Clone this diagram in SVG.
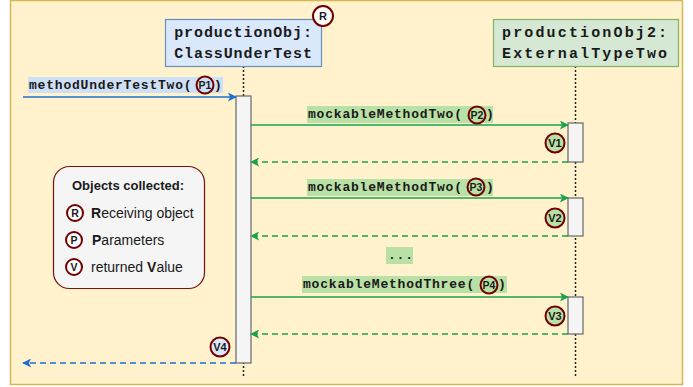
<svg xmlns="http://www.w3.org/2000/svg" width="693" height="387" viewBox="0 0 693 387">
<defs>
<style>
.mono{font-family:"Liberation Mono","Courier New",monospace;font-weight:bold;fill:#1a1a1a}
.hdr{font-size:15px;letter-spacing:0.9px}
.lbl{font-size:13px;letter-spacing:0.8px}
.badge{stroke:#700000;stroke-width:2}
.btxt{font-family:"Liberation Sans",Arial,sans-serif;font-weight:bold;font-size:10.5px;fill:#1a1a1a;text-anchor:middle}
.vtxt{font-size:11px}
.leg{font-family:"Liberation Sans",Arial,sans-serif;font-size:14px;fill:#1a1a1a}
.gl{stroke:#1ba04c;stroke-width:1.6;fill:none}
.bl{stroke:#1f6fd1;stroke-width:1.6;fill:none}
.dash{stroke-dasharray:6 4}
.life{stroke:#222;stroke-width:1.5;stroke-dasharray:2 2}
.act{fill:#f5f5f5;stroke:#666;stroke-width:1.2}
.ghl{fill:#b9e0a5}
.bhl{fill:#cfdff5}
</style>
<marker id="ag" viewBox="0 0 10 10" refX="9" refY="5" markerWidth="10" markerHeight="9" markerUnits="userSpaceOnUse" orient="auto-start-reverse">
<path d="M0,0 L10,5 L0,10 L2.5,5 z" fill="#1ba04c"/>
</marker>
<marker id="ab" viewBox="0 0 10 10" refX="9" refY="5" markerWidth="10" markerHeight="9" markerUnits="userSpaceOnUse" orient="auto-start-reverse">
<path d="M0,0 L10,5 L0,10 L2.5,5 z" fill="#1f6fd1"/>
</marker>
</defs>

<rect x="10.5" y="0.5" width="672" height="384" fill="#fff2cc" stroke="#d6b656" stroke-width="1.5"/>

<g id="lifelines">
<line class="life" x1="243.5" y1="66" x2="243.5" y2="376"/>
<line class="life" x1="575.5" y1="66" x2="575.5" y2="376"/>
</g>

<g id="productionObj">
<rect x="165.5" y="19.5" width="156" height="47" fill="#dae8fc" stroke="#6c8ebf" stroke-width="1.2"/>
<text class="mono hdr" x="243.5" y="37" text-anchor="middle">productionObj:</text>
<text class="mono hdr" x="243.5" y="58" text-anchor="middle">ClassUnderTest</text>
<circle class="badge" cx="323" cy="16" r="10" fill="#ffffff"/>
<text class="btxt vtxt" x="323" y="20">R</text>
</g>

<g id="productionObj2">
<rect x="493.5" y="19.5" width="185" height="47" fill="#d5e8d4" stroke="#82b366" stroke-width="1.2"/>
<text class="mono hdr" x="502" y="37" textLength="166" lengthAdjust="spacing">productionObj2:</text>
<text class="mono hdr" x="502" y="58" textLength="166" lengthAdjust="spacing">ExternalTypeTwo</text>
</g>

<g id="activations">
<rect class="act" x="236" y="96" width="15" height="267"/>
<rect class="act" x="568" y="123" width="15" height="39"/>
<rect class="act" x="568" y="198" width="15" height="38"/>
<rect class="act" x="568" y="297" width="15" height="37"/>
</g>

<g id="connectors">
<line class="bl" x1="23" y1="97" x2="236" y2="97" marker-end="url(#ab)"/>
<line class="gl" x1="251" y1="125" x2="568" y2="125" marker-end="url(#ag)"/>
<line class="gl dash" x1="568" y1="162" x2="251" y2="162" marker-end="url(#ag)"/>
<line class="gl" x1="251" y1="198" x2="568" y2="198" marker-end="url(#ag)"/>
<line class="gl dash" x1="568" y1="236" x2="251" y2="236" marker-end="url(#ag)"/>
<line class="gl" x1="251" y1="297" x2="568" y2="297" marker-end="url(#ag)"/>
<line class="gl dash" x1="568" y1="334" x2="251" y2="334" marker-end="url(#ag)"/>
<line class="bl dash" x1="236" y1="363" x2="23" y2="363" marker-end="url(#ab)"/>
</g>

<g id="label-methodUnderTestTwo">
<rect class="bhl" x="28" y="77" width="195" height="16"/>
<text class="mono lbl" x="29" y="89">methodUnderTestTwo(</text>
<circle class="badge" cx="205" cy="85" r="8.5" fill="#cfdff5"/>
<text class="btxt" x="205" y="88.5">P1</text>
<text class="mono lbl" x="214" y="89">)</text>
</g>

<g id="label-call1">
<rect class="ghl" x="307" y="106" width="186" height="17"/>
<text class="mono lbl" x="308" y="118">mockableMethodTwo(</text>
<circle class="badge" cx="477" cy="115" r="8.5" fill="#b9e0a5"/>
<text class="btxt" x="477" y="118.5">P2</text>
<text class="mono lbl" x="486" y="118">)</text>
</g>

<g id="label-call2">
<rect class="ghl" x="307" y="179" width="186" height="17"/>
<text class="mono lbl" x="308" y="191">mockableMethodTwo(</text>
<circle class="badge" cx="476" cy="187" r="8.5" fill="#b9e0a5"/>
<text class="btxt" x="476" y="190.5">P3</text>
<text class="mono lbl" x="486" y="191">)</text>
</g>

<g id="label-dots">
<rect class="ghl" x="386" y="247" width="27" height="17"/>
<text class="mono lbl" x="388" y="259">...</text>
</g>

<g id="label-call3">
<rect class="ghl" x="302" y="276" width="205" height="17"/>
<text class="mono lbl" x="303" y="288">mockableMethodThree(</text>
<circle class="badge" cx="489" cy="285" r="8.5" fill="#b9e0a5"/>
<text class="btxt" x="489" y="288.5">P4</text>
<text class="mono lbl" x="498" y="288">)</text>
</g>

<g id="returns">
<circle class="badge" cx="555" cy="143" r="9.5" fill="#b9e0a5"/>
<text class="btxt vtxt" x="555" y="147">V1</text>
<circle class="badge" cx="555" cy="218" r="9.5" fill="#b9e0a5"/>
<text class="btxt vtxt" x="555" y="222">V2</text>
<circle class="badge" cx="555" cy="316" r="9.5" fill="#b9e0a5"/>
<text class="btxt vtxt" x="555" y="320">V3</text>
<circle class="badge" cx="220" cy="347" r="9.5" fill="#dae8fc"/>
<text class="btxt vtxt" x="220" y="351">V4</text>
</g>

<g id="legend">
<rect x="53.5" y="166.5" width="151" height="122" rx="16" fill="#f5f5f5" stroke="#7a1010" stroke-width="1.2"/>
<text x="128" y="190" text-anchor="middle" style="font-family:'Liberation Sans',Arial,sans-serif;font-weight:bold;font-size:13px;fill:#1a1a1a">Objects collected:</text>
<circle class="badge" cx="75" cy="213" r="8" fill="#ffffff"/>
<text class="btxt" x="75" y="217">R</text>
<text class="leg" x="91" y="218"><tspan font-weight="bold">R</tspan>eceiving object</text>
<circle class="badge" cx="74" cy="240" r="8" fill="#ffffff"/>
<text class="btxt" x="74" y="244">P</text>
<text class="leg" x="92" y="245"><tspan font-weight="bold">P</tspan>arameters</text>
<circle class="badge" cx="74" cy="267" r="8" fill="#ffffff"/>
<text class="btxt" x="74" y="271">V</text>
<text class="leg" x="91" y="272">returned <tspan font-weight="bold">V</tspan>alue</text>
</g>
</svg>
